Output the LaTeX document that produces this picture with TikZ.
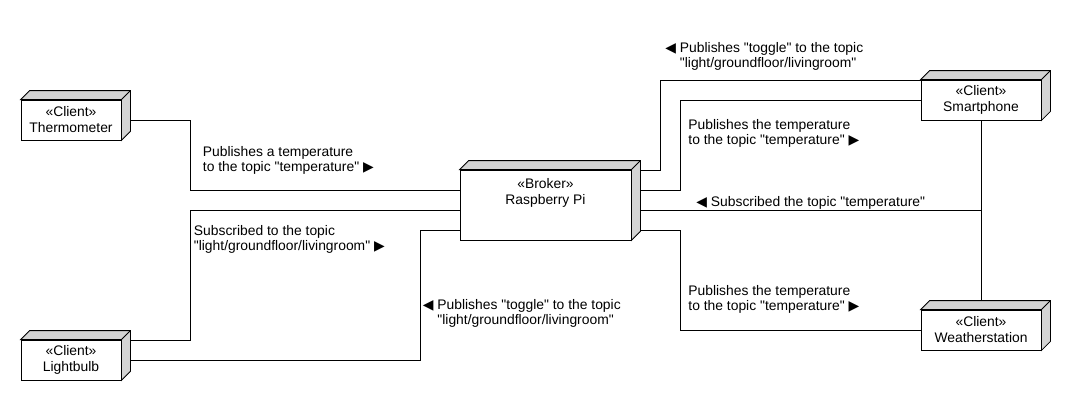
\documentclass[tikz,border=0pt]{standalone}
\usepackage{fontspec}
\setmainfont{Liberation Sans}[Ligatures=TeXOff]
\newfontfamily\symfont{DejaVu Sans}
\usepackage{tikz}
\usetikzlibrary{calc, positioning}
\definecolor{facegray}{RGB}{212,212,212}
\tikzset{umlbox/.style={draw, fill=white, align=center, inner sep=0pt, minimum width=75pt, minimum height=30pt, font=\fontsize{10.4}{12}\selectfont}}
\tikzset{face/.style={draw, fill=facegray}}
\tikzset{msg/.style={align=left, anchor=base west, inner sep=0pt, font=\fontsize{10.4}{11.25}\selectfont}}
\newcommand{\rarr}{ {\symfont ▶}}
\newcommand{\larr}{{\symfont ◀} }
% top and right face of a node box
\newcommand{\boxfaces}[1]{%
  \draw[face] (#1.north west) -- ++(9,-9) -| ($(#1.south east)+(9,-9)$) -- (#1.south east) -- (#1.north east) -- cycle;
  \draw (#1.north east) -- ++(9,-9);
}

\begin{document}
\begin{tikzpicture}[x=0.75pt, y=-0.75pt, line width=0.6pt]
\useasboundingbox (0,0) rectangle (1070,400);
% nodes
\node[umlbox] (th) at (71,120) {«Client»\\Thermometer};
\node[umlbox] (lb) at (71,360) {«Client»\\Lightbulb};
\node[umlbox, minimum width=128.25pt, minimum height=52.5pt] (br) at (545.5,205) {};
\node[umlbox, draw=none, fill=none, below=2.5pt of br.north] (brtext) {«Broker»\\Raspberry Pi};
\node[umlbox, minimum width=90pt] (sp) at (981,100) {«Client»\\Smartphone};
\node[umlbox, minimum width=90pt] (ws) at (981,330) {«Client»\\Weatherstation};
% connectors
\draw ([shift={(9,0)}]th.east) -| (190,190) -- (br.west |- 0,190);
\draw ([shift={(9,-20)}]lb.east) -| (190,210) -- (br.west |- 0,210);
\draw ([shift={(9,0)}]lb.east) -| (420,230) -- (br.west |- 0,230);
\draw ([shift={(9,-35)}]br.east) -| (660,80) -- (sp.west |- 0,80);
\draw ([shift={(9,-15)}]br.east) -| (680,100) -- (sp.west);
\draw ([shift={(9,5)}]br.east) -- (sp.south |- 0,210);
\draw ([shift={(9,25)}]br.east) -| (680,330) -- (ws.west);
\draw (sp.south) -- ([shift={(0,-9)}]ws.north);
\foreach \n in {th,lb,br,sp,ws} {\boxfaces{\n}}
% labels (base = last line)
\node[msg] (m1) at (202.5,171.5) {Publishes a temperature\\to the topic "temperature"\rarr};
\node[msg] (m2) at (193.5,250) {Subscribed to the topic\\"light/groundfloor/livingroom"\rarr};
\node[msg] (m3) at (422.5,324.5) {\larr Publishes "toggle" to the topic\\\phantom{\larr}"light/groundfloor/livingroom"};
\node[msg] (m4) at (665,67.5) {\larr Publishes "toggle" to the topic\\\phantom{\larr}"light/groundfloor/livingroom"};
\node[msg] (m5) at (688,144) {Publishes the temperature\\to the topic "temperature"\rarr};
\node[msg] (m6) at (696,206) {\larr Subscribed the topic "temperature"};
\node[msg] (m7) at (688,310) {Publishes the temperature\\to the topic "temperature"\rarr};
\end{tikzpicture}
\end{document}
